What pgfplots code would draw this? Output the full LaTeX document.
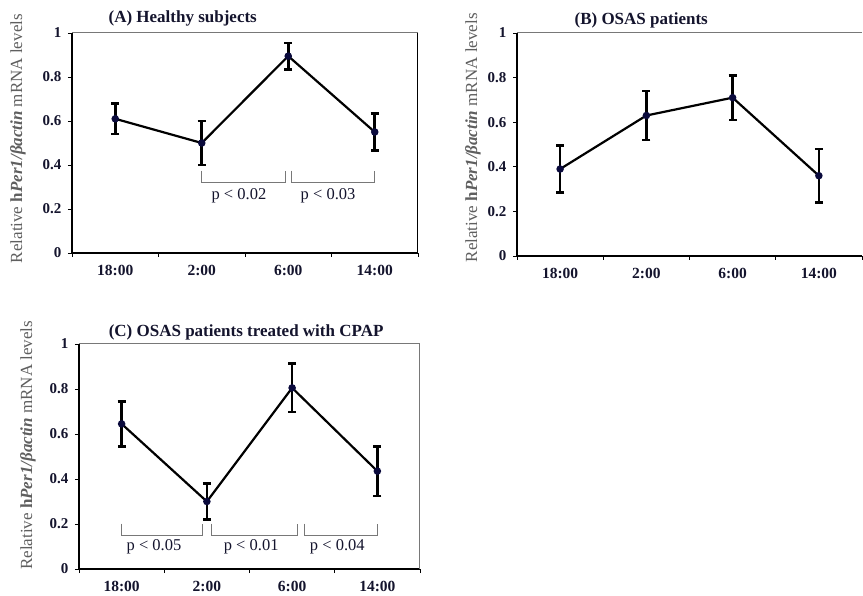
\documentclass[border=0pt]{standalone}
\usepackage{pgfplots}
\pgfplotsset{compat=1.18}
\usepackage{fontspec}
\setmainfont{Liberation Serif}
\definecolor{txt}{RGB}{20,20,45}
\definecolor{lab}{RGB}{95,95,95}
\definecolor{navy}{RGB}{10,10,60}
\definecolor{frame}{RGB}{120,120,120}

\pgfplotstableread{
x y e
0 0.61 0.07
1 0.50 0.10
2 0.895 0.06
3 0.55 0.085
}\dataA
\pgfplotstableread{
x y e
0 0.39 0.105
1 0.63 0.11
2 0.71 0.10
3 0.36 0.12
}\dataB
\pgfplotstableread{
x y e
0 0.645 0.10
1 0.30 0.08
2 0.805 0.107
3 0.435 0.11
}\dataC

\pgfplotsset{panel/.style={
  scale only axis, anchor=south west,
  xmin=-0.5, xmax=3.5, ymin=0, ymax=1,
  axis x line*=bottom, axis y line*=left,
  axis line style={black, line width=1.3pt, -},
  xtick={-0.5,0.5,1.5,2.5,3.5}, xticklabels={},
  extra x ticks={0,1,2,3}, extra x tick labels={18:00,2:00,6:00,14:00},
  extra x tick style={major tick length=0pt, tick style={draw=none}},
  ytick={0,0.2,0.4,0.6,0.8,1}, yticklabels={0,0.2,0.4,0.6,0.8,1},
  tick align=outside, major tick length=4pt,
  tick style={black, line width=0.8pt},
  xticklabel style={font=\fontsize{15.5}{15.5}\selectfont\bfseries, text=txt, yshift=-9pt},
  yticklabel style={font=\fontsize{15}{15}\selectfont\bfseries, text=txt, xshift=-3pt},
  clip=false,
}}
\pgfplotsset{series/.style={black, line width=2.2pt, mark=*, mark size=2.6pt,
  mark options={fill=navy, draw=navy},
  error bars/.cd, y dir=both, y explicit,
  error bar style={line width=2.6pt, black},
  error mark options={rotate=90, mark size=4pt, line width=2.6pt, black}}}

\newcommand{\ylab}{\textcolor{lab}{Relative \textbf{h\textit{Per1/βactin}} mRNA levels}}

\begin{document}
\begin{tikzpicture}
\path[use as bounding box] (0,0) rectangle (863pt,595pt);
% Panel A
\begin{axis}[panel, at={(72pt,342pt)}, width=346pt, height=220pt]
\addplot[series] table[x=x, y=y, y error=e] {\dataA};
\draw[frame, line width=1pt] (rel axis cs:0,1) -- (rel axis cs:1,1);
\draw[black, line width=1pt] (rel axis cs:1,1) -- (rel axis cs:1,0);
\draw[frame, line width=1pt] (axis cs:1,0.374) |- (axis cs:1.97,0.32) -- (axis cs:1.97,0.374);
\draw[frame, line width=1pt] (axis cs:2.04,0.374) |- (axis cs:3,0.32) -- (axis cs:3,0.374);
\node[font=\fontsize{16.5}{16.5}\selectfont, text=txt] at (axis cs:1.43,0.26) {p < 0.02};
\node[font=\fontsize{16.5}{16.5}\selectfont, text=txt] at (axis cs:2.46,0.26) {p < 0.03};
\node[font=\fontsize{17}{17}\selectfont\bfseries, text=txt] at ([yshift=15pt]rel axis cs:0.32,1) {(A) Healthy subjects};
\node[rotate=90, font=\fontsize{17}{17}\selectfont] at ([xshift=-54pt]rel axis cs:0,0.52) {\ylab};
\end{axis}
% Panel B
\begin{axis}[panel, at={(517pt,339pt)}, width=345pt, height=223pt]
\addplot[series] table[x=x, y=y, y error=e] {\dataB};
\draw[frame, line width=1pt] (rel axis cs:0,1) -- (rel axis cs:1,1);
\node[font=\fontsize{17}{17}\selectfont\bfseries, text=txt] at ([yshift=13pt]rel axis cs:0.36,1) {(B) OSAS patients};
\node[rotate=90, font=\fontsize{17}{17}\selectfont] at ([xshift=-44pt]rel axis cs:0,0.53) {\ylab};
\end{axis}
% Panel C
\begin{axis}[panel, at={(79pt,26pt)}, width=341pt, height=225pt]
\addplot[series] table[x=x, y=y, y error=e] {\dataC};
\draw[frame, line width=1pt] (rel axis cs:0,1) -- (rel axis cs:1,1) -- (rel axis cs:1,0);
\draw[frame, line width=1pt] (axis cs:0,0.2015) |- (axis cs:0.95,0.148) -- (axis cs:0.95,0.2015);
\draw[frame, line width=1pt] (axis cs:1.05,0.2015) |- (axis cs:2.06,0.148) -- (axis cs:2.06,0.2015);
\draw[frame, line width=1pt] (axis cs:2.14,0.2015) |- (axis cs:3,0.148) -- (axis cs:3,0.2015);
\node[font=\fontsize{16.5}{16.5}\selectfont, text=txt] at (axis cs:0.38,0.098) {p < 0.05};
\node[font=\fontsize{16.5}{16.5}\selectfont, text=txt] at (axis cs:1.52,0.098) {p < 0.01};
\node[font=\fontsize{16.5}{16.5}\selectfont, text=txt] at (axis cs:2.53,0.098) {p < 0.04};
\node[font=\fontsize{17}{17}\selectfont\bfseries, text=txt] at ([yshift=12pt]rel axis cs:0.49,1) {(C) OSAS patients treated with CPAP};
\node[rotate=90, font=\fontsize{17}{17}\selectfont] at ([xshift=-51pt]rel axis cs:0,0.55) {\ylab};
\end{axis}
\end{tikzpicture}
\end{document}
